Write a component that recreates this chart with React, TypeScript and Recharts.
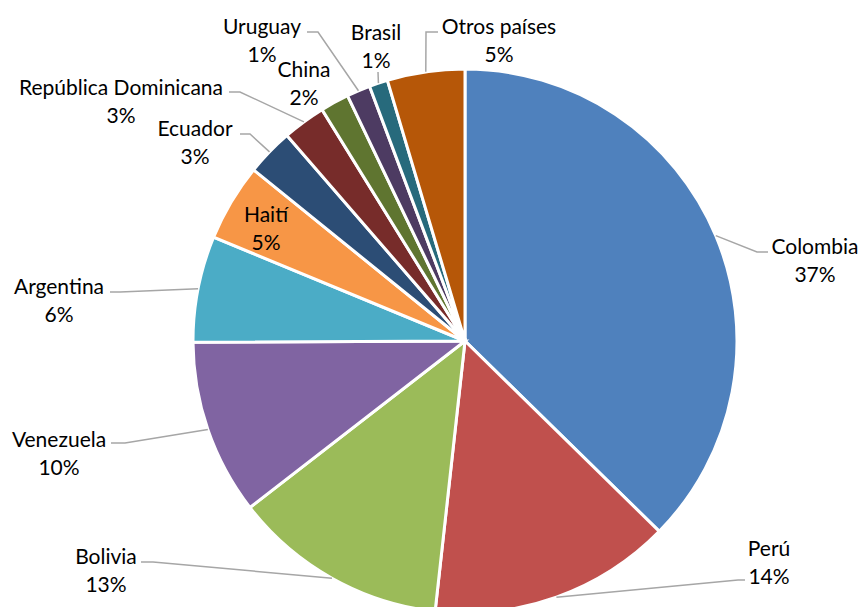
import { PieChart, Pie, Cell } from 'recharts'

const countries = [
  'Colombia',
  'Perú',
  'Bolivia',
  'Venezuela',
  'Argentina',
  'Haití',
  'Ecuador',
  'República Dominicana',
  'China',
  'Uruguay',
  'Brasil',
  'Otros países',
]

const shares = [37.3, 14.4, 12.75, 10.4, 6.3, 4.6, 2.8, 2.55, 1.7, 1.4, 1.1, 4.6]

const colors = [
  '#4F81BD',
  '#C0504D',
  '#9BBB59',
  '#8064A2',
  '#4BACC6',
  '#F79646',
  '#2C4D75',
  '#772C2A',
  '#5F7530',
  '#4D3B62',
  '#276A7C',
  '#B65708',
]

// label placement, offsets from the pie centre (text centre of first line,
// then leader line elbow + end point next to the text)
const labelLayout: { tx: number; ty: number; line: number[] | null }[] = [
  { tx: 350, ty: -96, line: [292, -89, 303, -89] },
  { tx: 304, ty: 206, line: [273, 239, 280, 239] },
  { tx: -359, ty: 214, line: [-312, 221, -324, 221] },
  { tx: -406, ty: 97, line: [-340, 102, -354, 102] },
  { tx: -406, ty: -56, line: [-345, -49, -355, -49] },
  { tx: -199, ty: -128, line: null },
  { tx: -270, ty: -214, line: [-215, -207, -225, -207] },
  { tx: -344, ty: -255, line: [-225, -249, -236, -249] },
  { tx: -161, ty: -273, line: null },
  { tx: -203, ty: -316, line: [-147, -309, -158, -309] },
  { tx: -89, ty: -310, line: [-87, -269, -87, -269] },
  { tx: 34, ty: -316, line: [-39, -309, -27, -309] },
]

const data = countries.map((name, i) => ({ name, value: shares[i] }))

const RAD = Math.PI / 180

function renderLabel(props: any) {
  const { cx, cy, midAngle, outerRadius, percent, index, name } = props
  const l = labelLayout[index]
  const x = cx + l.tx
  const y = cy + l.ty
  let path = null
  if (l.line) {
    const sx = cx + outerRadius * Math.cos(-midAngle * RAD)
    const sy = cy + outerRadius * Math.sin(-midAngle * RAD)
    const [ex, ey, ax, ay] = l.line
    path = (
      <polyline
        points={`${sx},${sy} ${cx + ex},${cy + ey} ${cx + ax},${cy + ay}`}
        fill="none"
        stroke="#A6A6A6"
        strokeWidth={1.5}
      />
    )
  }
  return (
    <g key={`lbl-${index}`}>
      {path}
      <text
        x={x}
        y={y}
        textAnchor="middle"
        dominantBaseline="central"
        fill="#000"
        fontSize={21}
        fontFamily="Lato, 'Open Sans', sans-serif"
      >
        <tspan x={x} y={y}>
          {name}
        </tspan>
        <tspan x={x} y={y + 28}>
          {`${Math.round(percent * 100)}%`}
        </tspan>
      </text>
    </g>
  )
}

export default function App() {
  return (
    <div
      style={{
        position: 'absolute',
        left: 0,
        top: 0,
        width: 862,
        height: 607,
        background: '#fff',
        overflow: 'hidden',
      }}
    >
      <PieChart width={862} height={607} margin={{ top: 0, right: 0, bottom: 0, left: 0 }}>
        <Pie
          data={data}
          dataKey="value"
          nameKey="name"
          cx={465}
          cy={341}
          outerRadius={272}
          startAngle={90}
          endAngle={-270}
          stroke="#fff"
          strokeWidth={3}
          label={renderLabel}
          labelLine={false}
          isAnimationActive={false}
        >
          {data.map((d, i) => (
            <Cell key={d.name} fill={colors[i]} />
          ))}
        </Pie>
      </PieChart>
    </div>
  )
}
